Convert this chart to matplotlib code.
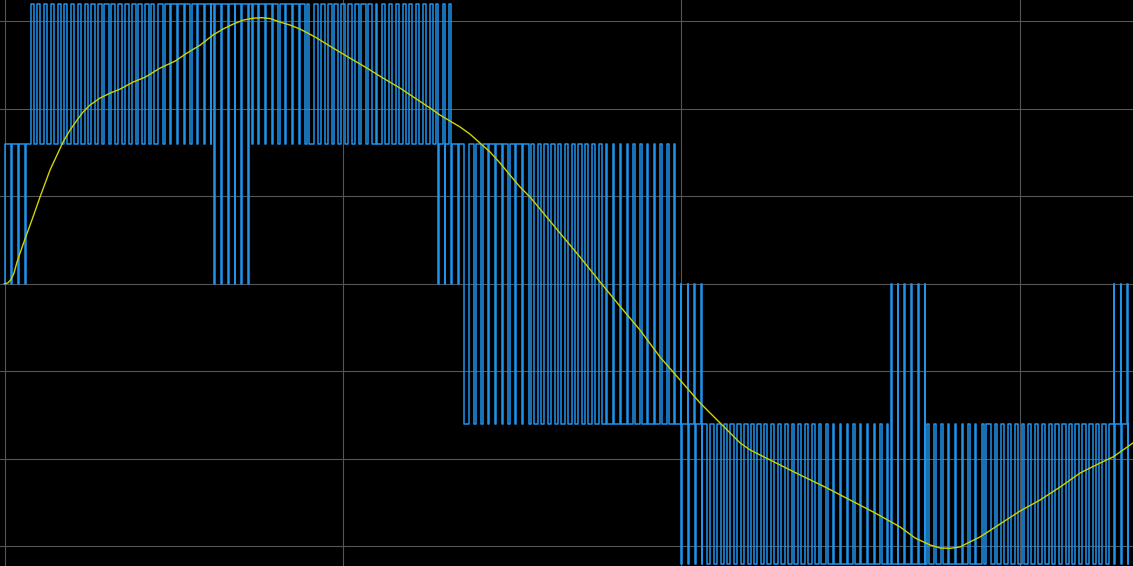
import numpy as np
import matplotlib.pyplot as plt

# filtered output (yellow), time in ms, volts
trace_t = [0.0, 0.089, 0.177, 0.266, 0.355, 0.444, 0.591, 0.828, 1.035, 1.331,
           1.538, 1.715, 1.922, 2.129, 2.306, 2.513, 2.809, 3.105, 3.400, 3.785,
           4.140, 4.583, 5.027, 5.381, 5.766, 6.150, 6.446, 6.741, 7.037, 7.333,
           7.599, 7.836, 8.131, 8.427, 8.723, 9.166, 9.698, 10.201, 10.704, 11.177,
           11.679, 12.123, 12.567, 12.862, 13.158, 13.454, 13.749, 14.045, 14.341, 14.636,
           14.932, 15.228, 15.523, 15.967, 16.410, 17.002, 17.593, 18.184, 18.776, 19.367,
           19.959, 20.550, 21.141, 21.733, 22.028, 22.324, 22.915, 23.507, 24.246, 24.985,
           25.724, 26.464, 26.907, 27.351, 27.646, 27.942, 28.238, 28.533, 28.829, 29.420,
           30.012, 30.603, 31.195, 31.786, 32.377, 32.762, 33.353]
trace_v = [0.0, 0.5, 2.4, 6.1, 12.4, 17.5, 25.5, 38.1, 49.5, 64.9,
           73.5, 80.9, 87.7, 93.4, 98.0, 102.0, 106.0, 108.8, 111.1, 115.1,
           117.9, 123.1, 127.1, 131.7, 136.2, 142.0, 145.4, 148.2, 150.5, 151.6,
           151.9, 151.4, 149.4, 147.7, 145.4, 140.9, 134.6, 128.8, 123.1, 117.4,
           111.7, 106.0, 100.3, 96.3, 92.9, 89.5, 85.4, 80.3, 75.2, 68.9,
           62.0, 55.2, 49.5, 39.2, 28.9, 15.2, 1.0, -12.9, -26.5, -41.9,
           -55.0, -68.1, -79.5, -90.9, -94.9, -97.8, -103.5, -109.2, -116.1, -123.5,
           -130.9, -138.9, -145.2, -149.2, -150.9, -151.1, -150.3, -147.4, -144.6, -137.2,
           -129.8, -123.5, -116.1, -108.1, -102.4, -98.9, -90.9]

# multilevel PWM output (blue), one row per switching segment
carrier_period = 0.2  # ms
seg_start = [0.0, 0.74, 2.5, 4.4, 6.1, 7.3, 9.0, 11.0, 12.74, 13.22, 13.57, 15.5,
             17.8, 19.9, 20.7, 22.5, 24.3, 26.1, 27.26, 29.0, 30.9, 32.7]
seg_end = seg_start[1:] + [33.4]
seg_base = [80, 80, 80, 80, 160, 80, 80, 80, 80, 80, -80, -80,
            -80, -80, -80, -80, -80, -160, -80, -80, -80, -80]
seg_up = [80, 160, 160, 160, 160, 160, 160, 160, 160, 80, 80, 80,
          80, 0, -80, -80, -80, 0, -80, -80, -80, 0]
seg_up_frac = [0, 0.45, 0.6, 0.8, 0, 0.8, 0.6, 0.45, 0.3, 0, 0.8, 0.5,
               0.2, 0.08, 0, 0, 0, 0.1, 0, 0, 0, 0.08]
seg_dn = [0, 80, 80, 80, 0, 80, 80, 80, 0, 0, -80, -80,
          -80, -160, -160, -160, -160, -160, -160, -160, -160, -160]
seg_dn_frac = [0.2, 0, 0, 0, 0.1, 0, 0, 0, 0.1, 0.15, 0, 0,
               0, 0.08, 0.45, 0.6, 0.8, 0, 0.8, 0.6, 0.45, 0.08]

T = carrier_period
pt, pv = [0.0], [0.0]
for i in range(len(seg_start)):
    t0, t1, base = seg_start[i], seg_end[i], seg_base[i]
    wu = seg_up_frac[i] * T
    wd = seg_dn_frac[i] * T
    pt.append(t0); pv.append(base)
    k = int(np.ceil(t0 / T - 1e-9))
    while k * T < t1 - 1e-9:
        c = k * T
        if wu > 0 and wd > 0:
            pt += [c - wu, c, c + wd]
            pv += [seg_up[i], seg_dn[i], base]
        elif wu > 0:
            pt += [c - wu / 2, c + wu / 2]
            pv += [seg_up[i], base]
        elif wd > 0:
            pt += [c - wd / 2, c + wd / 2]
            pv += [seg_dn[i], base]
        k += 1
order = np.argsort(pt, kind='stable')
pt = np.array(pt)[order]
pv = np.array(pv)[order]

fig = plt.figure(figsize=(11.33, 5.66), dpi=100, facecolor='black')
ax = fig.add_axes([0, 0, 1, 1])
ax.set_facecolor('black')

ax.plot(pt, pv, drawstyle='steps-post', color='#1f93ec', lw=1.1)
ax.plot(trace_t, trace_v, color='#d2d200', lw=1.0)

ax.set_xlim(-0.148, 33.35)
ax.set_ylim(-161.2, 162)
ax.set_xticks([0, 10, 20, 30])
ax.set_yticks([-150, -100, -50, 0, 50, 100, 150])
ax.grid(True, color='#555555', lw=0.8)
ax.set_axisbelow(True)
ax.tick_params(length=0, labelbottom=False, labelleft=False)
for s in ax.spines.values():
    s.set_visible(False)

fig.savefig('out.png', dpi=100, facecolor='black')
